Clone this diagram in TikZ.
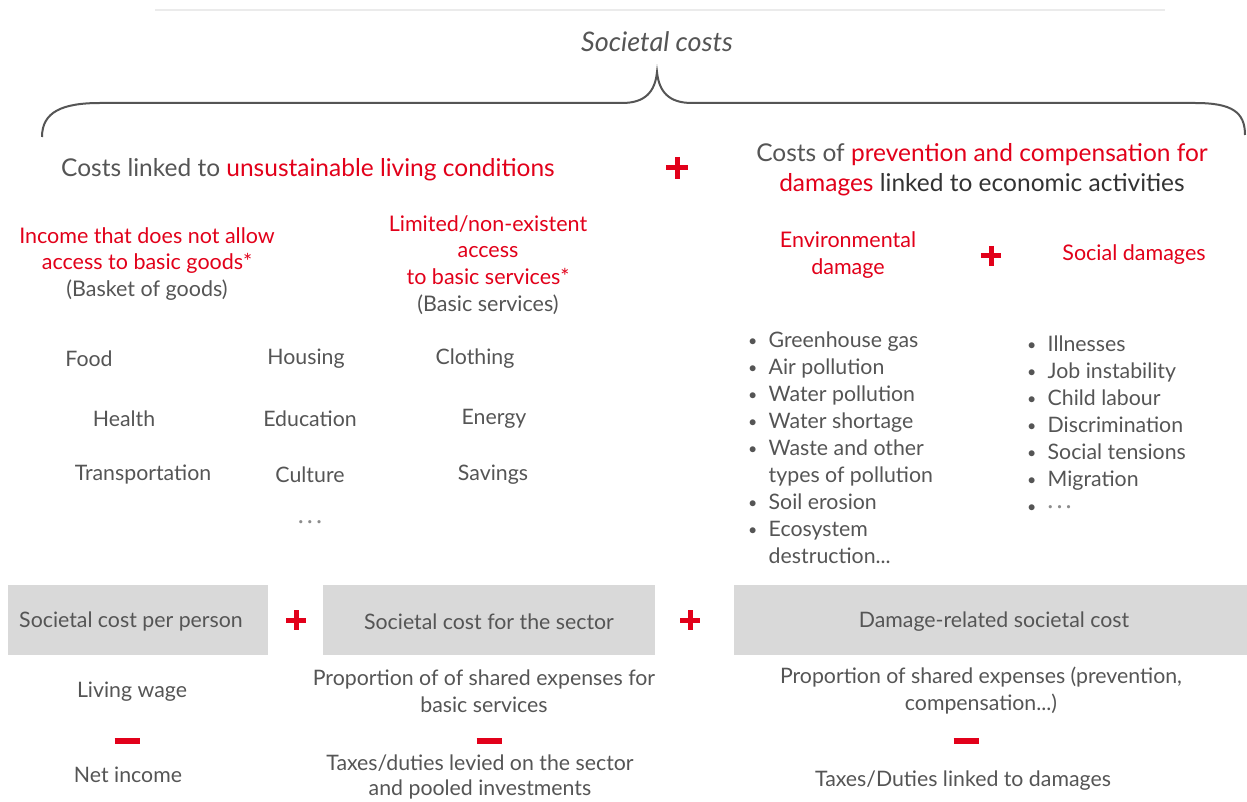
\documentclass[tikz,border=0pt]{standalone}
\usepackage{fontspec}
\setmainfont{Lato}
\definecolor{txtgray}{HTML}{555555}
\definecolor{darktxt}{HTML}{333333}
\definecolor{redc}{HTML}{E2001A}
\definecolor{boxgray}{HTML}{D9D9D9}
\definecolor{bracegray}{HTML}{555555}
\tikzset{
  txt/.style={font=\fontsize{21.3}{27}\selectfont, text=txtgray, inner sep=0pt, align=center, yshift=-2pt},
  head/.style={font=\fontsize{24.5}{30}\selectfont, text=txtgray, inner sep=0pt, align=center, yshift=-2pt},
  redhead/.style={font=\fontsize{21.5}{26.7}\selectfont, text=redc, inner sep=0pt, align=center, yshift=-2pt},
  bullets/.style={font=\fontsize{21.3}{27}\selectfont, text=txtgray, inner sep=0pt, align=left, anchor=north west},
  boxtxt/.style={font=\fontsize{21.3}{25}\selectfont, text=txtgray, inner sep=0pt, yshift=-1.5pt},
  redbar/.style={draw=redc, line width=5pt},
  plussign/.pic={\draw[redbar] (-11,0) -- (11,0); \draw[redbar] (0,-11) -- (0,11);},
  smallplus/.pic={\draw[redbar] (-10,0) -- (10,0); \draw[redbar] (0,-10) -- (0,10);},
  minussign/.pic={\draw[draw=redc, line width=6pt] (-12.5,0) -- (12.5,0);},
}
\newcommand{\bul}{\makebox[20.5pt][l]{\raisebox{1pt}{\scalebox{0.75}{\textbullet}}}}
\newcommand{\nobul}{\makebox[20.5pt][l]{}}
\begin{document}
\begin{tikzpicture}[x=1pt,y=-1pt]
\useasboundingbox (0,0) rectangle (1247,802);
\fill[white] (0,0) rectangle (1247,802);
% faint top line
\coordinate (tl1) at (155,10);
\coordinate (tl2) at (1165,10);
\draw[draw=black!8, line width=2pt] (tl1) -- (tl2);
% title
\node[font=\fontsize{27}{30}\selectfont\itshape, text=txtgray, inner sep=0pt] (title) at (657,42) {Societal costs};
% brace
\coordinate (bl) at (42,137);
\coordinate (bm) at (657,72);
\coordinate (br) at (1245,135);
\draw[draw=bracegray, line width=2pt]
  (bl) .. controls (42,112) and (62,103) .. (100,103) -- (622,103)
  .. controls (645,103) and (655,92) .. (bm)
  .. controls (659,92) and (669,103) .. (692,103) -- (1195,103)
  .. controls (1232,103) and (1245,112) .. (br);
% headings
\node[head] (h1) at (308,168) {Costs linked to \textcolor{redc}{unsustainable living conditions}};
\pic at (677,168) {plussign};
\node[head] (h2) at (982,168) {Costs of \textcolor{redc}{prevention and compensation for}\\ \textcolor{redc}{damages} \textcolor{darktxt}{linked to economic activities}};
% sub headings
\node[redhead] (g1) at (147,262) {Income that does not allow\\access to basic goods*\\\textcolor{txtgray}{(Basket of goods)}};
\node[redhead] (g2) at (488,263) {Limited/non-existent\\access\\to basic services*\\\textcolor{txtgray}{(Basic services)}};
\node[redhead] (e1) at (848,253) {Environmental\\damage};
\pic at (991,256) {smallplus};
\node[redhead] (s1) at (1134,253) {Social damages};
% grid
\node[txt] (food) at (89,357) {Food};
\node[txt] (hous) at (306,357) {Housing};
\node[txt] (clot) at (475,357) {Clothing};
\node[txt] (heal) at (124,417) {Health};
\node[txt] (educ) at (310,417) {Education};
\node[txt] (ener) at (494,417) {Energy};
\node[txt] (tran) at (143,473) {Transportation};
\node[txt] (cult) at (310,473) {Culture};
\node[txt] (savi) at (493,473) {Savings};
\node[txt, text=black!45] (dots) at (310,523) {\textperiodcentered\,\textperiodcentered\,\textperiodcentered};
% bullet lists
\node[bullets] (envlist) at (748,332) {%
\bul Greenhouse gas\\
\bul Air pollution\\
\bul Water pollution\\
\bul Water shortage\\
\bul Waste and other\\
\nobul types of pollution\\
\bul Soil erosion\\
\bul Ecosystem\\
\nobul destruction...};
\node[bullets] (soclist) at (1027,336) {%
\bul Illnesses\\
\bul Job instability\\
\bul Child labour\\
\bul Discrimination\\
\bul Social tensions\\
\bul Migration\\
\bul \textcolor{black!45}{\textperiodcentered\,\textperiodcentered\,\textperiodcentered}};
% gray boxes
\fill[boxgray] (8,585) rectangle (268,655);
\fill[boxgray] (323,585) rectangle (655,655);
\fill[boxgray] (734,585) rectangle (1247,655);
\node[boxtxt] (b1) at (131,620) {Societal cost per person};
\pic at (296,620) {smallplus};
\node[boxtxt] (b2) at (489,620) {Societal cost for the sector};
\pic at (690,620) {smallplus};
\node[boxtxt] (b3) at (994,620) {Damage-related societal cost};
% bottom
\node[txt] (lw) at (132,690) {Living wage};
\pic at (127,741) {minussign};
\node[txt] (ni) at (128,773) {Net income};
\node[txt] (ps) at (484,689) {Proportion of of shared expenses for\\basic services};
\pic at (489,741) {minussign};
\node[txt, font=\fontsize{21.3}{25.5}\selectfont] (tx) at (480,775) {Taxes/duties levied on the sector\\and pooled investments};
\node[txt] (pd) at (981,689) {Proportion of shared expenses (prevention,\\compensation...)};
\pic at (966,741) {minussign};
\node[txt] (td) at (963,779) {Taxes/Duties linked to damages};
\end{tikzpicture}
\end{document}
